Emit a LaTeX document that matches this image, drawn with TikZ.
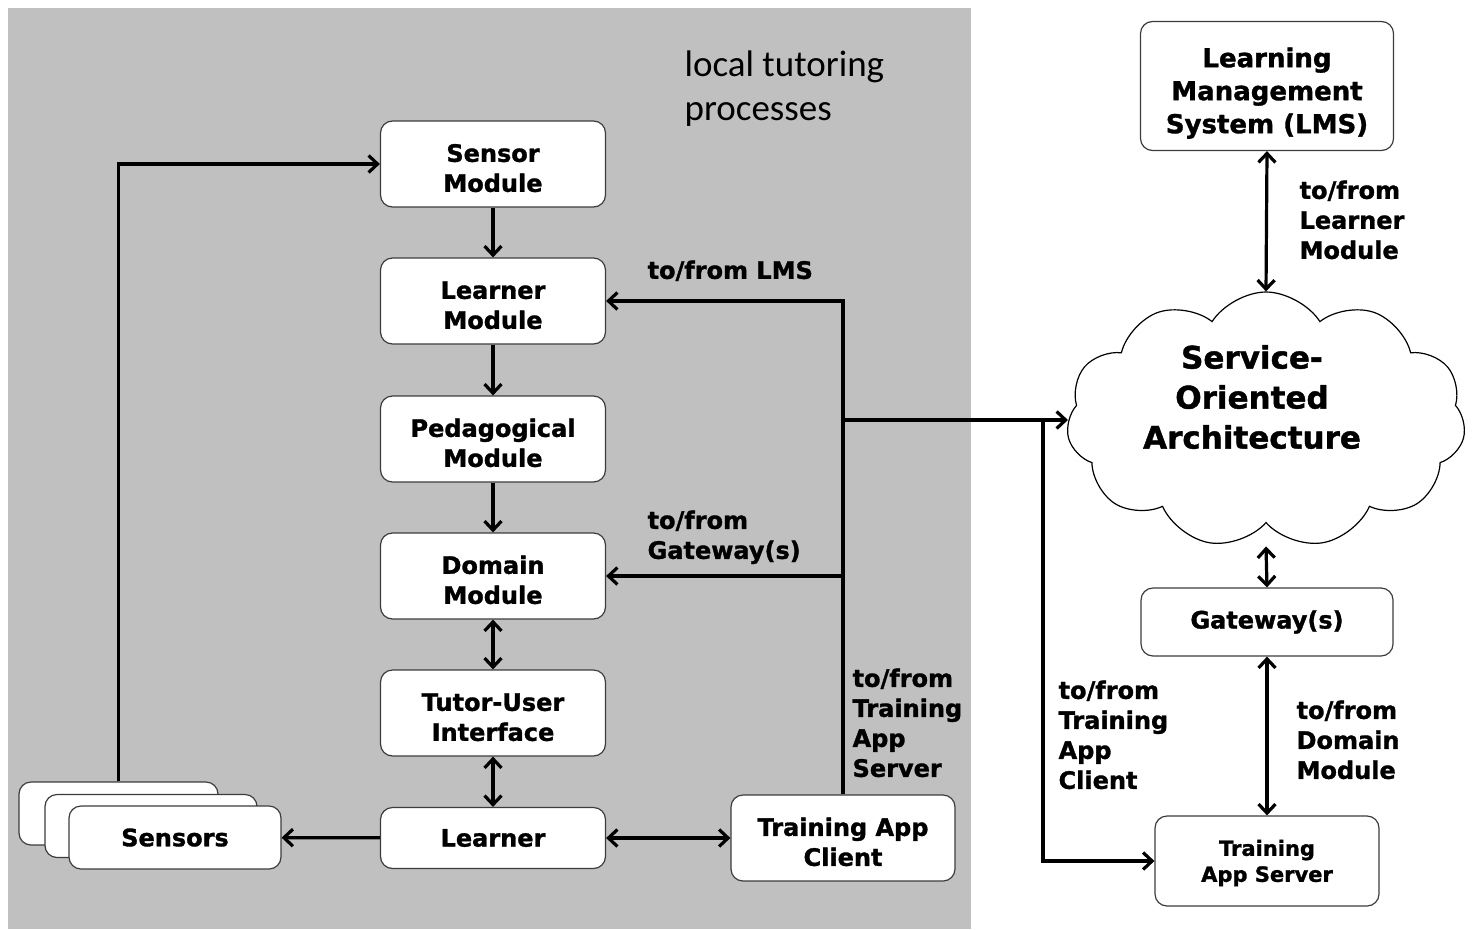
\documentclass[tikz,border=0pt]{standalone}
\usepackage{fontspec}
\setmainfont{DejaVu Sans}[BoldFeatures={FakeBold=1.3}]
\newfontfamily\notefont{Carlito}
\usetikzlibrary{shapes.symbols, arrows.meta}

\definecolor{panelgray}{RGB}{192,192,192}
\definecolor{boxline}{RGB}{60,60,60}

% pushes the first line of a box down a little
\newcommand{\firstgap}[1]{\rule{0pt}{#1}}

\begin{document}
\begin{tikzpicture}[x=1pt, y=-1pt, line width=3.2pt,
    >={Straight Barb[length=9pt, width=17pt]},
    module/.style={draw=boxline, line width=1.2pt, fill=white, rounded corners=12pt,
      align=center, inner sep=0pt, font=\fontsize{24}{30}\selectfont\bfseries},
    flowlabel/.style={anchor=north west, align=left, inner sep=0pt,
      font=\fontsize{24}{30}\selectfont\bfseries}]

\useasboundingbox (0,0) rectangle (1474,929);

% local side
\fill[panelgray] (8,8) rectangle (971,929);
\node (tutoring) at (683,49) [anchor=north west, align=left, inner sep=0pt,
  font=\notefont\fontsize{37}{44}\selectfont] {local tutoring\\processes};

\node (sensormod)   at (493,164) [module, minimum width=225pt, minimum height=86pt] {\firstgap{26pt}Sensor\\Module};
\node (learnermod)  at (493,301) [module, minimum width=225pt, minimum height=86pt] {\firstgap{26pt}Learner\\Module};
\node (pedagogymod) at (493,439) [module, minimum width=225pt, minimum height=86pt] {\firstgap{26pt}Pedagogical\\Module};
\node (domainmod)   at (493,576) [module, minimum width=225pt, minimum height=86pt] {\firstgap{26pt}Domain\\Module};
\node (tutorui)     at (493,713) [module, minimum width=225pt, minimum height=86pt] {\firstgap{26pt}Tutor-User\\Interface};
\node (learner)     at (493,838) [module, minimum width=225pt, minimum height=61pt] {Learner};
\node (client)      at (843,838) [module, minimum width=224pt, minimum height=86pt] {\firstgap{26pt}Training App\\Client};

\node (sensors3) at (118.5,813.5) [module, minimum width=199pt, minimum height=63pt] {};
\node (sensors2) at (151,826)     [module, minimum width=212pt, minimum height=63pt] {};
\node (sensors)  at (175,837.5)   [module, minimum width=212pt, minimum height=63pt] {Sensors};

% remote side
\node (lms) at (1267,86) [module, minimum width=253pt, minimum height=129pt,
  font=\fontsize{26}{33}\selectfont\bfseries] {\firstgap{34pt}Learning\\Management\\System (LMS)};
\node (soa) at (1266,420) [cloud, cloud puffs=11, cloud puff arc=115, cloud ignores aspect,
  draw=black, line width=1.2pt, fill=white,
  minimum width=399pt, minimum height=256pt] {};
\node (soatext) at (1252,397) [align=center, inner sep=0pt,
  font=\fontsize{31}{40}\selectfont\bfseries] {Service-\\Oriented\\Architecture};
\node (gateway) at (1267,622) [module, minimum width=252pt, minimum height=68pt] {Gateway(s)};
\node (server)  at (1267,861) [module, minimum width=224pt, minimum height=90pt,
  font=\fontsize{21}{26}\selectfont\bfseries] {\firstgap{20pt}Training\\App Server};

\coordinate (split) at (1043,418);
\coordinate (soabottom) at ([yshift=-23pt]soa.south);

% tutoring pipeline
\draw[->] (sensormod) -- (learnermod);
\draw[->] (learnermod) -- (pedagogymod);
\draw[->] (pedagogymod) -- (domainmod);
\draw[<->] (domainmod) -- (tutorui);
\draw[<->] (tutorui) -- (learner);
\draw[->] (learner) -- (sensors);
\draw[<->] (learner) -- (client);
\draw[->] (sensors3.north) |- (sensormod.west);

% client bus
\draw[->] (client.north) |- (learnermod.east);
\draw[->] (client.north) |- (domainmod.east);
\draw[->] (client.north) |- (soa.west);
\draw[->] (split) |- (server.west);

\draw[<->] (lms.south) -- (soa.north);
\draw[<->] (soabottom) -- (gateway.north);
\draw[<->] (gateway.south) -- (server.north);

\node (lbllms)     at (646,259)  [flowlabel] {to/from LMS};
\node (lblgateway) at (646,509)  [flowlabel] {to/from\\Gateway(s)};
\node (lblserver)  at (851,667)  [flowlabel] {to/from\\Training\\App\\Server};
\node (lblclient)  at (1057,679) [flowlabel] {to/from\\Training\\App\\Client};
\node (lbldomain)  at (1295,699) [flowlabel] {to/from\\Domain\\Module};
\node (lbllearner) at (1298,179) [flowlabel] {to/from\\Learner\\Module};

\end{tikzpicture}
\end{document}
